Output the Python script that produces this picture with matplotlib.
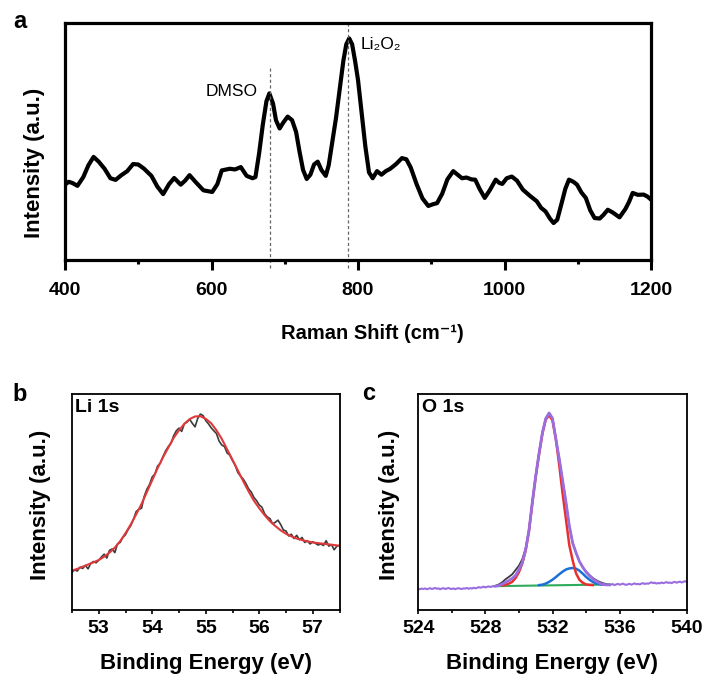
import numpy as np
import matplotlib
matplotlib.use("Agg")
import matplotlib.pyplot as plt
from matplotlib.ticker import MultipleLocator, NullLocator

plt.rcParams['font.family'] = ['Liberation Sans', 'DejaVu Sans']

# ---- panel a: Raman spectrum (intensity in a.u., 0-100 of the frame) ----
raman_x = [400, 405, 410, 417, 425, 432, 439, 446, 454, 462, 469, 477, 485, 493, 500,
           508, 518, 526, 534, 542, 549, 558, 564, 570, 578, 589, 601, 608, 614, 625,
           632, 640, 648, 656, 660, 665, 670, 675, 679, 684, 688, 693, 698, 704, 710,
           715.5, 720, 725, 730, 735, 740, 745, 750, 756, 760, 765, 770, 775, 780, 784,
           788, 792, 796, 800, 805, 810, 815, 820, 826, 832, 838, 844, 852, 860, 866,
           872, 880, 888, 896, 902, 908, 915, 922, 930, 936, 942, 948, 955, 960, 966,
           973, 980, 988, 993, 997, 1003, 1010, 1017, 1025, 1035, 1044, 1050, 1056, 1062, 1067,
           1072, 1078, 1083, 1088, 1094, 1099, 1105, 1111, 1117, 1123, 1130, 1135, 1141, 1148, 1157,
           1165, 1170, 1175, 1182, 1190, 1195, 1200]
raman_y = [31.8, 33.0, 32.5, 31.3, 35.0, 40.0, 43.5, 41.5, 38.5, 34.5, 33.8, 35.8, 37.5, 40.5, 40.3,
           38.5, 35.5, 31.0, 27.8, 32.0, 34.6, 31.8, 33.5, 35.8, 33.0, 29.4, 28.7, 32.0, 37.8, 38.5,
           38.2, 39.2, 35.5, 34.5, 35.0, 45.0, 57.0, 67.0, 70.3, 66.0, 59.0, 55.5, 58.0, 60.5, 59.0,
           54.0, 46.0, 38.0, 34.2, 36.0, 40.3, 41.5, 38.0, 35.5, 40.0, 50.0, 60.0, 72.0, 84.0, 91.0,
           93.5, 91.0, 84.0, 76.0, 62.0, 48.0, 37.0, 34.5, 37.5, 36.0, 37.5, 38.5, 40.5, 43.0, 42.5,
           39.0, 32.0, 26.0, 22.8, 23.5, 24.0, 28.0, 34.0, 37.5, 36.0, 34.5, 34.8, 34.0, 33.9, 30.0,
           26.2, 29.5, 33.9, 32.5, 32.1, 34.5, 35.2, 33.5, 29.7, 27.0, 24.8, 22.0, 20.5, 17.5, 15.6,
           17.0, 24.0, 30.0, 33.9, 33.0, 31.8, 28.5, 26.2, 21.0, 17.7, 17.5, 19.0, 21.2, 20.0, 18.0,
           21.5, 24.5, 28.3, 27.5, 27.6, 26.8, 25.5]
raman_marks = [680, 786]          # DMSO, Li2O2
raman_mark_top = [82, 100]

# ---- panel b: Li 1s ----
li_x = np.linspace(52.5, 57.5, 101)
li_raw = [17.5, 18.5, 18.0, 19.8, 19.2, 20.6, 19.0, 21.5, 22.4, 21.8,
          23.0, 24.5, 25.8, 24.0, 27.5, 28.2, 26.5, 30.5, 31.2, 33.5,
          34.8, 37.2, 39.0, 42.0, 45.5, 46.5, 47.0, 52.5, 55.8, 58.0,
          61.5, 62.8, 66.5, 67.8, 70.8, 73.5, 75.5, 77.0, 80.5, 82.8,
          84.0, 82.5, 86.0, 86.8, 88.0, 86.2, 84.6, 88.5, 90.5, 89.8,
          87.5, 86.0, 84.2, 82.8, 81.5, 78.0, 76.2, 75.5, 72.5, 71.5,
          69.0, 66.8, 63.5, 61.8, 60.5, 58.5, 56.0, 54.5, 52.0, 50.5,
          48.5, 47.5, 44.5, 43.0, 42.2, 39.8, 40.5, 41.5, 39.5, 37.0,
          36.5, 34.2, 35.0, 33.0, 34.5, 32.5, 33.5, 31.2, 32.0, 30.5,
          31.5, 30.8, 30.0, 30.5, 29.8, 32.0, 29.5, 30.2, 27.8, 29.5, 29.8]
li_fit_x = np.linspace(52.5, 57.5, 51)
li_fit = [18.2, 19.0, 20.0, 21.0, 22.0, 23.1, 24.6, 26.5, 28.8, 31.8,
          35.5, 39.6, 44.2, 49.0, 54.5, 60.0, 65.5, 70.5, 75.0, 79.5,
          83.0, 86.0, 88.2, 89.4, 89.5, 88.3, 86.3, 83.0, 79.0, 74.2,
          69.4, 64.5, 59.5, 54.8, 50.5, 47.0, 43.8, 41.0, 38.8, 36.8,
          35.2, 34.0, 33.0, 32.3, 31.7, 31.2, 30.9, 30.6, 30.3, 30.0, 29.7]

# ---- panel c: O 1s ----
o_left_x = np.linspace(524.0, 528.4, 45)
o_left = [9.8, 9.6, 9.9, 9.7, 10.0, 9.6, 9.8, 10.1, 9.7, 9.9,
          10.2, 9.8, 10.0, 9.6, 9.9, 10.1, 9.7, 9.9, 10.2, 9.8,
          9.7, 10.0, 9.6, 9.9, 10.1, 9.8, 9.7, 10.0, 9.9, 10.2,
          9.8, 10.1, 9.9, 10.3, 10.0, 10.2, 10.6, 10.3, 10.5, 10.8,
          10.4, 10.7, 10.9, 10.6, 10.9]
o_right_x = np.linspace(535.6, 540.0, 45)
o_right = [11.9, 11.5, 11.8, 12.1, 11.7, 11.9, 12.2, 11.8, 11.6, 11.9,
           12.1, 11.7, 12.0, 12.3, 11.9, 12.1, 11.8, 12.2, 12.4, 12.0,
           12.3, 12.1, 12.5, 12.8, 12.4, 12.6, 12.2, 12.5, 12.3, 12.7,
           12.4, 12.6, 12.9, 12.5, 12.7, 12.4, 12.8, 13.0, 12.6, 12.9,
           13.1, 12.7, 13.0, 13.3, 13.0]
o_x = np.linspace(528.6, 535.4, 35)
o_raw = [11.2, 11.8, 12.8, 14.2, 15.3, 16.5, 18.5, 20.5, 23.5, 28.5,
         37.0, 50.0, 62.0, 72.5, 82.0, 88.5, 91.0, 88.5, 79.0, 70.0,
         60.0, 50.0, 39.0, 31.0, 26.5, 22.5, 19.8, 17.8, 16.2, 14.8,
         13.8, 13.0, 12.4, 12.0, 11.7]
o_env = [11.0, 11.3, 12.0, 12.8, 13.6, 14.6, 16.0, 18.8, 22.0, 28.0,
         37.0, 50.0, 62.0, 72.5, 82.0, 88.5, 91.0, 88.5, 79.0, 70.0,
         60.0, 50.0, 39.0, 31.0, 26.5, 22.5, 19.8, 17.5, 15.8, 14.4,
         13.3, 12.4, 11.8, 11.6, 11.6]
o_fit1_x = np.linspace(529.0, 534.4, 28)
o_fit1 = [11.3, 11.6, 12.2, 13.0, 14.8, 17.5, 21.5, 27.5, 36.5, 49.5,
          61.5, 72.0, 81.5, 88.0, 90.0, 87.5, 79.0, 67.0, 54.0, 42.0,
          30.0, 23.0, 17.0, 14.0, 12.6, 11.8, 11.6, 11.5]
o_fit2_x = np.linspace(531.2, 535.0, 20)
o_fit2 = [11.5, 11.7, 12.2, 13.0, 14.0, 15.2, 16.5, 17.7, 18.7, 19.2,
          19.4, 19.1, 18.2, 16.8, 15.3, 14.0, 13.0, 12.3, 11.9, 11.7]
o_base_x = [528.5, 535.5]
o_base = [11.0, 11.8]

W, H = 705, 675
fig = plt.figure(figsize=(W / 100, H / 100), dpi=100)


def box(l, t, r, b):
    return [l / W, 1 - b / H, (r - l) / W, (b - t) / H]


def ftext(x, y, s, **kw):
    fig.text(x / W, 1 - y / H, s, **kw)


# panel a
ax = fig.add_axes(box(65, 23, 651, 260))
ax.plot(raman_x, raman_y, color='black', lw=3.0, solid_joinstyle='round')
for xm, top in zip(raman_marks, raman_mark_top):
    ax.plot([xm, xm], [-3.5, top], color='#666666', lw=0.9, ls=(0, (2.5, 2)), clip_on=False)
ax.text(663, 71, 'DMSO', fontsize=12.5, ha='right', va='center')
ax.text(803, 91, 'Li\u2082O\u2082', fontsize=12.5, ha='left', va='center')
ax.set_xlim(400, 1200)
ax.set_ylim(0, 100)
ax.xaxis.set_major_locator(MultipleLocator(200))
ax.xaxis.set_minor_locator(MultipleLocator(100))
ax.yaxis.set_major_locator(NullLocator())
ax.tick_params(axis='x', which='major', direction='out', length=7.5, width=2.2,
               labelsize=14, pad=8)
ax.tick_params(axis='x', which='minor', direction='out', length=3, width=2.2)
for lab in ax.get_xticklabels():
    lab.set_fontweight('bold')
for sp in ax.spines.values():
    sp.set_linewidth(2.3)

ftext(372, 333, 'Raman Shift (cm\u207b\u00b9)', fontsize=14.5, fontweight='bold',
      ha='center', va='center')
ftext(35, 163, 'Intensity (a.u.)', fontsize=16, fontweight='bold', rotation=90,
      ha='center', va='center')
ftext(20, 21, 'a', fontsize=17, fontweight='bold', ha='center', va='center')

# panel b
bx = fig.add_axes(box(72, 393.5, 339.5, 610))
bx.plot(li_x, li_raw, color='#3c3c3c', lw=1.2)
bx.plot(li_fit_x, li_fit, color='#e0393b', lw=1.5)
bx.set_xlim(52.5, 57.5)
bx.set_ylim(0, 100)
bx.xaxis.set_major_locator(MultipleLocator(1))
bx.xaxis.set_minor_locator(MultipleLocator(0.5))
bx.text(0.012, 0.975, 'Li 1s', transform=bx.transAxes, fontsize=14, fontweight='bold',
        ha='left', va='top')

# panel c
cx = fig.add_axes(box(418.3, 393.5, 686.7, 610))
cx.plot(o_x, o_raw, color='#3c3c3c', lw=1.3)
cx.plot(o_base_x, o_base, color='#2eaa5c', lw=1.5)
cx.plot(o_fit2_x, o_fit2, color='#1c6fd6', lw=1.8)
cx.plot(o_fit1_x, o_fit1, color='#e8302f', lw=1.8)
cx.plot(o_left_x, o_left, color='#9b6ee0', lw=1.5)
cx.plot(o_right_x, o_right, color='#9b6ee0', lw=1.5)
cx.plot(o_x, o_env, color='#9b6ee0', lw=2.0)
cx.set_xlim(524, 540)
cx.set_ylim(0, 100)
cx.xaxis.set_major_locator(MultipleLocator(4))
cx.xaxis.set_minor_locator(MultipleLocator(2))
cx.text(0.012, 0.975, 'O 1s', transform=cx.transAxes, fontsize=14, fontweight='bold',
        ha='left', va='top')

for a in (bx, cx):
    a.yaxis.set_major_locator(NullLocator())
    a.tick_params(axis='x', which='major', direction='out', length=3, width=1.2,
                  labelsize=14, pad=4)
    a.tick_params(axis='x', which='minor', direction='out', length=2, width=1.2)
    for lab in a.get_xticklabels():
        lab.set_fontweight('bold')
    for sp in a.spines.values():
        sp.set_linewidth(1.3)

ftext(206, 663, 'Binding Energy (eV)', fontsize=16, fontweight='bold', ha='center', va='center')
ftext(552, 663, 'Binding Energy (eV)', fontsize=16, fontweight='bold', ha='center', va='center')
ftext(41, 505, 'Intensity (a.u.)', fontsize=16, fontweight='bold', rotation=90,
      ha='center', va='center')
ftext(390, 505, 'Intensity (a.u.)', fontsize=16, fontweight='bold', rotation=90,
      ha='center', va='center')
ftext(20, 395, 'b', fontsize=17, fontweight='bold', ha='center', va='center')
ftext(369, 393, 'c', fontsize=17, fontweight='bold', ha='center', va='center')

fig.savefig('out.png', dpi=100)
